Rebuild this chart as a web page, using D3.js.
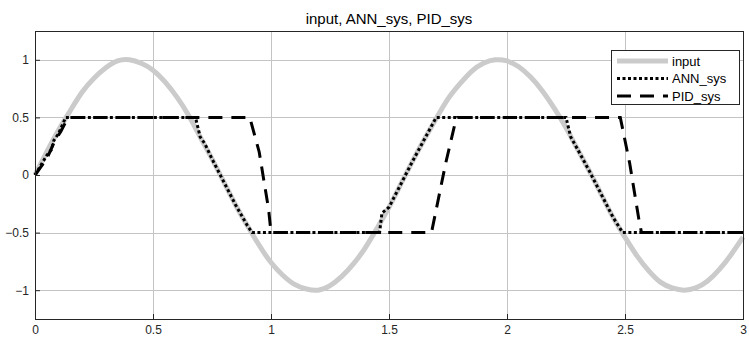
<!DOCTYPE html>
<html>
<head>
<meta charset="utf-8">
<script src="https://cdn.jsdelivr.net/npm/d3@7"></script>
<style>
  body { margin: 0; background: #fff; }
  text { font-family: "Liberation Sans", Arial, sans-serif; }
</style>
</head>
<body>
<svg id="chart" width="749" height="339"></svg>
<script>
const svg = d3.select("#chart");
const width = +svg.attr("width");
const height = +svg.attr("height");
const margin = { top: 31, right: 6, bottom: 20, left: 35 };

// input (every 0.05 s)
const inputT = d3.range(0, 3.001, 0.05);
const inputY = [0, 0.20, 0.39, 0.56, 0.72, 0.84, 0.93, 0.99, 1.00, 0.97,
  0.91, 0.81, 0.68, 0.52, 0.33, 0.14, -0.06, -0.26, -0.44, -0.61,
  -0.76, -0.87, -0.95, -0.99, -1.00, -0.96, -0.88, -0.77, -0.63, -0.46,
  -0.28, -0.08, 0.12, 0.31, 0.49, 0.66, 0.79, 0.90, 0.97, 1.00,
  0.99, 0.94, 0.85, 0.73, 0.58, 0.41, 0.22, 0.03, -0.17, -0.37,
  -0.54, -0.70, -0.83, -0.93, -0.98, -1.00, -0.98, -0.92, -0.82, -0.69, -0.54];

// ANN_sys breakpoints
const annT = [0, 0.05, 0.07, 0.08, 0.10, 0.13, 0.68, 0.70, 0.72, 0.75, 0.80, 0.85, 0.90, 0.92,
  1.46, 1.47, 1.50, 1.55, 1.60, 1.65, 1.70, 2.25, 2.27, 2.30, 2.35, 2.40, 2.45, 2.49, 3.0];
const annY = [0, 0.17, 0.22, 0.30, 0.36, 0.50, 0.50, 0.33, 0.27, 0.14, -0.06, -0.26, -0.44, -0.50,
  -0.50, -0.33, -0.28, -0.08, 0.12, 0.31, 0.50, 0.50, 0.33, 0.22, 0.03, -0.17, -0.37, -0.50, -0.50];

// PID_sys breakpoints
const pidT = [0, 0.05, 0.08, 0.11, 0.14, 0.91, 0.95, 0.99, 1.0, 1.68, 1.70, 1.74, 1.78, 1.79,
  2.48, 2.52, 2.56, 2.57, 3.0];
const pidY = [0, 0.14, 0.28, 0.38, 0.50, 0.50, 0.20, -0.30, -0.50, -0.50, -0.30, 0.10, 0.45, 0.50,
  0.50, 0.10, -0.40, -0.50, -0.50];

const xTicks = [0, 0.5, 1, 1.5, 2, 2.5, 3];
const yTicks = [-1, -0.5, 0, 0.5, 1];
const seriesNames = ["input", "ANN_sys", "PID_sys"];

const x = d3.scaleLinear().domain([0, 3]).range([margin.left, width - margin.right]);
const y = d3.scaleLinear().domain([-1.25, 1.25]).range([height - margin.bottom, margin.top]);

const axisColor = "#262626";

// grid
svg.append("g")
  .attr("class", "grid")
  .attr("transform", `translate(0,${height - margin.bottom})`)
  .call(d3.axisBottom(x).tickValues(xTicks).tickSize(-(height - margin.top - margin.bottom)).tickFormat(""));
svg.append("g")
  .attr("class", "grid")
  .attr("transform", `translate(${margin.left},0)`)
  .call(d3.axisLeft(y).tickValues(yTicks).tickSize(-(width - margin.left - margin.right)).tickFormat(""));
svg.selectAll(".grid line").attr("stroke", "#c4c4c4").attr("shape-rendering", "crispEdges");
svg.selectAll(".grid path").attr("stroke-width", 0);

// lines
const inputData = inputT.map((t, i) => [t, inputY[i]]);
const annData = annT.map((t, i) => [t, annY[i]]);
const pidData = pidT.map((t, i) => [t, pidY[i]]);
const line = d3.line().x(d => x(d[0])).y(d => y(d[1]));

const plot = svg.append("g");
plot.append("path")
  .datum(inputData)
  .attr("fill", "none")
  .attr("stroke", "#cbcbcb")
  .attr("stroke-width", 5)
  .attr("d", d3.line().x(d => x(d[0])).y(d => y(d[1])).curve(d3.curveNatural));
plot.append("path")
  .datum(pidData)
  .attr("fill", "none")
  .attr("stroke", "#000")
  .attr("stroke-width", 3)
  .attr("stroke-dasharray", "14,9")
  .attr("d", line);
plot.append("path")
  .datum(annData)
  .attr("fill", "none")
  .attr("stroke", "#000")
  .attr("stroke-width", 3)
  .attr("stroke-dasharray", "3,2.5")
  .attr("d", line);

// axes (box with inward ticks)
const xAxis = svg.append("g")
  .attr("transform", `translate(0,${height - margin.bottom})`)
  .call(d3.axisBottom(x).tickValues(xTicks).tickSize(-5).tickPadding(6).tickFormat(d3.format("")));
const yAxis = svg.append("g")
  .attr("transform", `translate(${margin.left},0)`)
  .call(d3.axisLeft(y).tickValues(yTicks).tickSize(-5).tickPadding(6).tickFormat(d3.format("")));
[xAxis, yAxis].forEach(a => {
  a.select(".domain").attr("stroke", axisColor);
  a.selectAll("line").attr("stroke", axisColor);
  a.selectAll("text").attr("fill", axisColor).attr("font-size", "12px").attr("font-family", "Liberation Sans, Arial, sans-serif");
});
svg.append("rect")
  .attr("x", margin.left).attr("y", margin.top)
  .attr("width", width - margin.left - margin.right)
  .attr("height", height - margin.top - margin.bottom)
  .attr("fill", "none").attr("stroke", axisColor).attr("shape-rendering", "crispEdges");

// title
svg.append("text")
  .attr("x", (margin.left + width - margin.right) / 2)
  .attr("y", 24)
  .attr("text-anchor", "middle")
  .attr("font-size", "15px")
  .attr("fill", "#000")
  .text("input, ANN_sys, PID_sys");

// legend
const legend = svg.append("g").attr("transform", "translate(611,50)");
legend.append("rect")
  .attr("width", 128).attr("height", 54)
  .attr("fill", "#fff").attr("stroke", axisColor).attr("shape-rendering", "crispEdges");
const legStyles = [
  { stroke: "#cbcbcb", w: 5, dash: null },
  { stroke: "#000", w: 3, dash: "3,2.5" },
  { stroke: "#000", w: 3, dash: "14,9" }
];
legend.selectAll(".leg-line")
  .data(seriesNames)
  .enter()
  .append("line")
    .attr("x1", 6).attr("x2", 57)
    .attr("y1", (d, i) => 11 + i * 17.5)
    .attr("y2", (d, i) => 11 + i * 17.5)
    .attr("stroke", (d, i) => legStyles[i].stroke)
    .attr("stroke-width", (d, i) => legStyles[i].w)
    .attr("stroke-dasharray", (d, i) => legStyles[i].dash);
legend.selectAll(".leg-text")
  .data(seriesNames)
  .enter()
  .append("text")
    .attr("x", 61)
    .attr("y", (d, i) => 11 + i * 17.5)
    .attr("dy", "0.35em")
    .attr("font-size", "13px")
    .attr("fill", "#000")
    .text(d => d);
</script>
</body>
</html>
